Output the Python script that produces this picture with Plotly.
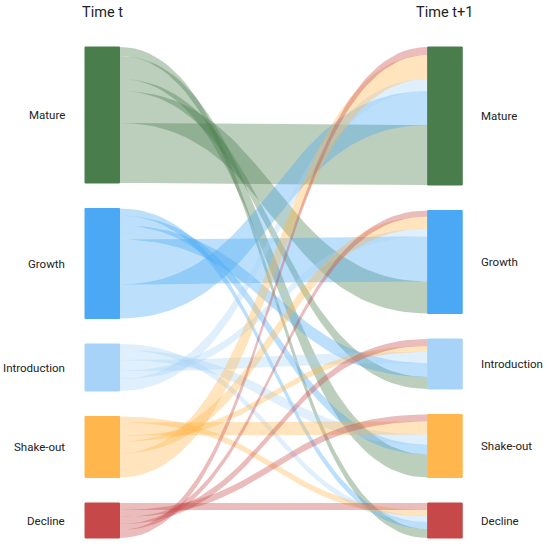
import numpy as np
import plotly.graph_objects as go

# --- data: stage transitions from time t (rows) to time t+1 (columns) ---
stages = ["Mature", "Growth", "Introduction", "Shake-out", "Decline"]
from_mature = [60, 32, 12, 23, 9]
from_growth = [34, 45, 14, 10, 7]
from_introduction = [12, 8, 11, 10, 6]
from_shakeout = [24, 12, 6, 13, 6]
from_decline = [8, 6, 7, 7, 7]

node_colors = ["#4a7d4c", "#4aa8f4", "#a7d3f8", "#ffb74d", "#c64848"]
link_alpha = 0.37

flows = np.array([from_mature, from_growth, from_introduction,
                  from_shakeout, from_decline], dtype=float)
n = len(stages)

# --- layout constants (pixels, y axis is 1 unit = 1 px) ---
W, H = 550, 546
top_px = 47
pad = 25.5
left_x = (85, 119.5)
right_x = (427.7, 462.2)


def rgba(hexc, a):
    h = hexc.lstrip('#')
    r, g, b = int(h[0:2], 16), int(h[2:4], 16), int(h[4:6], 16)
    return f"rgba({r},{g},{b},{a})"


out_tot = flows.sum(axis=1)
in_tot = flows.sum(axis=0)
left_top = np.concatenate([[0], np.cumsum(out_tot + pad)[:-1]])
right_top = np.concatenate([[0], np.cumsum(in_tot + pad)[:-1]])

# ribbons are stacked bottom-up: the lowest partner node sits at the top
src_off = {}
for i in range(n):
    y = left_top[i]
    for j in reversed(range(n)):
        src_off[(i, j)] = y
        y += flows[i, j]
tgt_off = {}
for j in range(n):
    y = right_top[j]
    for i in reversed(range(n)):
        tgt_off[(i, j)] = y
        y += flows[i, j]

# cubic bezier shape shared by all ribbons
t = np.linspace(0, 1, 60)
x0, x1 = left_x[1], right_x[0]
xm = (x0 + x1) / 2
bx = (1 - t) ** 3 * x0 + 3 * (1 - t) ** 2 * t * xm + 3 * (1 - t) * t ** 2 * xm + t ** 3 * x1
s = 3 * t ** 2 - 2 * t ** 3

fig = go.Figure()

for i in range(n):
    for j in range(n):
        v = flows[i, j]
        ys, yt = src_off[(i, j)], tgt_off[(i, j)]
        upper = ys + (yt - ys) * s
        lower = upper + v
        fig.add_trace(go.Scatter(
            x=np.concatenate([bx, bx[::-1]]),
            y=np.concatenate([upper, lower[::-1]]),
            mode='lines', fill='toself',
            fillcolor=rgba(node_colors[i], link_alpha),
            line=dict(width=0), hoverinfo='skip', showlegend=False))

# nodes
for col_x, tops, tots in [(left_x, left_top, out_tot), (right_x, right_top, in_tot)]:
    for k in range(n):
        y0, y1 = tops[k], tops[k] + tots[k]
        fig.add_trace(go.Scatter(
            x=[col_x[0], col_x[1], col_x[1], col_x[0], col_x[0]],
            y=[y0, y0, y1, y1, y0],
            mode='lines', fill='toself', fillcolor=node_colors[k],
            line=dict(width=1, color=node_colors[k]),
            hoverinfo='skip', showlegend=False))

label_font = dict(size=11.5, color='#222222')
annotations = []
for k in range(n):
    annotations.append(dict(
        x=left_x[0] - 18, y=left_top[k] + out_tot[k] / 2, text=stages[k],
        xanchor='right', yanchor='middle', showarrow=False, font=label_font))
    annotations.append(dict(
        x=right_x[1] + 17, y=right_top[k] + in_tot[k] / 2, text=stages[k],
        xanchor='left', yanchor='middle', showarrow=False, font=label_font))

title_font = dict(size=14.5, color='#222222')
annotations.append(dict(x=sum(left_x) / 2, y=12 - top_px, text="Time t",
                        xanchor='center', yanchor='middle', showarrow=False,
                        font=title_font))
annotations.append(dict(x=sum(right_x) / 2, y=12 - top_px, text="Time t+1",
                        xanchor='center', yanchor='middle', showarrow=False,
                        font=title_font))

fig.update_layout(
    width=W, height=H,
    margin=dict(l=0, r=0, t=0, b=0),
    paper_bgcolor='white', plot_bgcolor='white',
    font=dict(family='Roboto, "Open Sans", sans-serif'),
    xaxis=dict(range=[0, W], visible=False, fixedrange=True),
    yaxis=dict(range=[H - top_px, -top_px], visible=False, fixedrange=True),
    annotations=annotations,
    showlegend=False,
)

# drop the default page margin so the figure sits at the window corner
fig.write_html("out.html", config={'displayModeBar': False},
               post_script="document.body.style.margin='0';")
